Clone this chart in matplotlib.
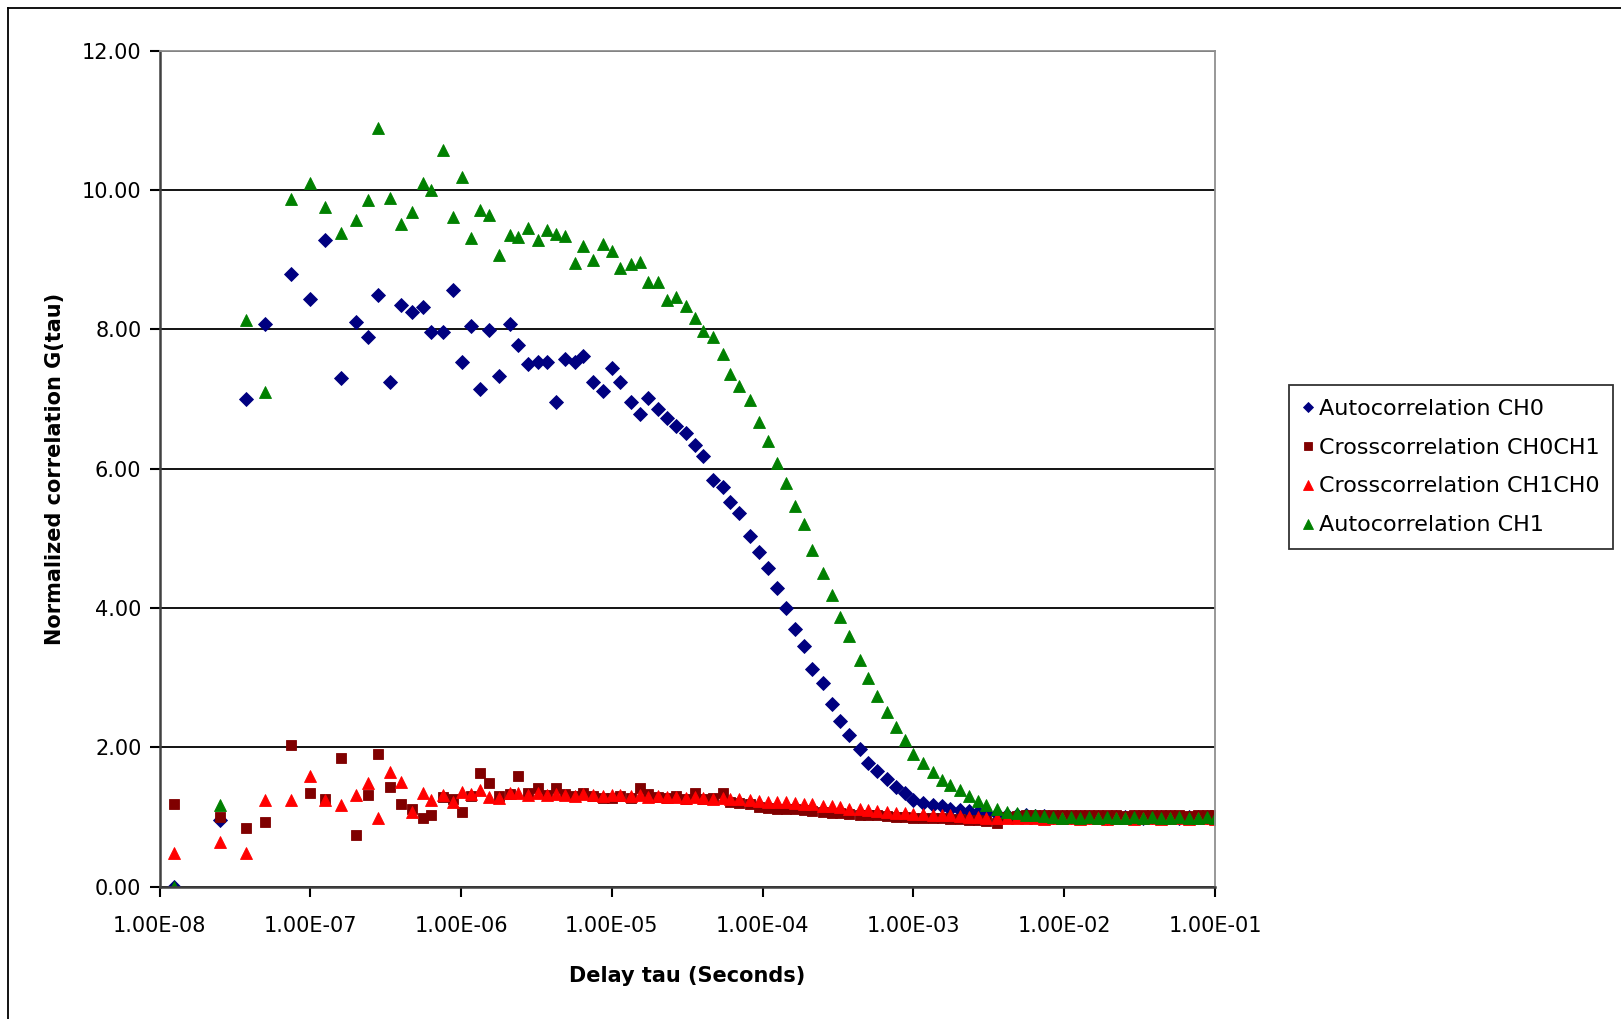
import matplotlib

matplotlib.use("Agg")
import matplotlib.pyplot as plt
from matplotlib.lines import Line2D

# delay times (s), shared by all four series
tau = [
    1.25e-8, 2.50e-8,
    3.75e-8, 5.00e-8, 7.50e-8, 1.00e-7, 1.25e-7, 1.60e-7, 2.00e-7, 2.40e-7, 2.80e-7, 3.40e-7,
    4.00e-7, 4.70e-7, 5.56e-7, 6.31e-7, 7.62e-7, 8.79e-7, 1.02e-6, 1.16e-6, 1.33e-6, 1.54e-6,
    1.79e-6, 2.11e-6, 2.39e-6, 2.79e-6, 3.25e-6, 3.69e-6, 4.26e-6, 4.89e-6, 5.69e-6, 6.46e-6,
    7.46e-6, 8.69e-6,
    1.01e-5, 1.14e-5, 1.33e-5, 1.54e-5, 1.75e-5, 2.03e-5, 2.33e-5, 2.66e-5, 3.10e-5, 3.56e-5,
    4.02e-5, 4.66e-5, 5.43e-5, 6.10e-5, 7.00e-5, 8.24e-5, 9.40e-5,
    1.08e-4, 1.25e-4, 1.43e-4, 1.63e-4, 1.87e-4, 2.14e-4, 2.50e-4, 2.90e-4, 3.24e-4, 3.75e-4,
    4.42e-4, 4.99e-4, 5.73e-4, 6.70e-4, 7.64e-4, 8.75e-4,
    1.00e-3, 1.16e-3, 1.34e-3, 1.54e-3, 1.76e-3, 2.04e-3, 2.34e-3, 2.69e-3, 3.05e-3, 3.56e-3,
    4.15e-3, 4.83e-3, 5.56e-3, 6.38e-3, 7.33e-3, 8.41e-3, 9.66e-3,
    1.11e-2, 1.27e-2, 1.46e-2, 1.68e-2, 1.93e-2, 2.21e-2, 2.54e-2, 2.92e-2, 3.35e-2, 3.85e-2,
    4.42e-2, 5.07e-2, 5.82e-2, 6.68e-2, 7.67e-2, 8.81e-2, 1.00e-1,
]

auto_ch0 = [
    0.00, 0.96,
    7.00, 8.08, 8.80, 8.43, 9.28, 7.30, 8.11, 7.89, 8.49, 7.24,
    8.35, 8.25, 8.32, 7.96, 7.96, 8.56, 7.53, 8.05, 7.15, 7.99,
    7.33, 8.08, 7.77, 7.50, 7.53, 7.53, 6.96, 7.58, 7.53, 7.62,
    7.25, 7.12,
    7.45, 7.25, 6.96, 6.79, 7.01, 6.85, 6.72, 6.61, 6.51, 6.34,
    6.18, 5.84, 5.74, 5.52, 5.37, 5.03, 4.81,
    4.57, 4.28, 4.00, 3.70, 3.45, 3.13, 2.92, 2.62, 2.38, 2.18,
    1.97, 1.78, 1.66, 1.54, 1.43, 1.34,
    1.24, 1.20, 1.17, 1.15, 1.12, 1.10, 1.08, 1.07, 1.05, 1.04,
    1.03, 1.02, 1.02, 1.01, 1.01, 1.00, 1.00,
    1.00, 1.00, 1.00, 1.00, 0.99, 1.00, 1.00, 1.00, 0.99, 1.00,
    1.00, 1.00, 0.99, 1.00, 1.00, 1.00, 1.00,
]

cross_01 = [
    1.19, 1.00,
    0.84, 0.92, 2.03, 1.35, 1.25, 1.84, 0.74, 1.31, 1.91, 1.43,
    1.19, 1.12, 0.98, 1.03, 1.28, 1.25, 1.07, 1.30, 1.63, 1.48,
    1.30, 1.33, 1.58, 1.35, 1.42, 1.32, 1.42, 1.33, 1.30, 1.34,
    1.30, 1.27,
    1.27, 1.30, 1.27, 1.41, 1.33, 1.28, 1.27, 1.30, 1.26, 1.34,
    1.25, 1.27, 1.34, 1.22, 1.20, 1.18, 1.14,
    1.13, 1.12, 1.12, 1.11, 1.10, 1.08, 1.07, 1.05, 1.05, 1.04,
    1.03, 1.02, 1.02, 1.01, 1.00, 1.00,
    0.99, 0.99, 0.98, 0.98, 0.97, 0.97, 0.96, 0.95, 0.94, 0.91,
    1.00, 1.01, 1.02, 1.03, 1.02, 1.03, 1.02,
    1.03, 1.02, 1.03, 1.02, 1.03, 1.02, 1.01, 1.03, 1.02, 1.03,
    1.02, 1.03, 1.02, 1.01, 1.03, 1.02, 1.03,
]

cross_10 = [
    0.48, 0.64,
    0.48, 1.24, 1.24, 1.58, 1.24, 1.17, 1.31, 1.48, 0.98, 1.65,
    1.50, 1.07, 1.35, 1.24, 1.31, 1.22, 1.36, 1.33, 1.38, 1.28,
    1.27, 1.35, 1.34, 1.32, 1.35, 1.31, 1.33, 1.32, 1.30, 1.33,
    1.31, 1.30,
    1.32, 1.31, 1.30, 1.31, 1.29, 1.30, 1.28, 1.29, 1.27, 1.28,
    1.27, 1.26, 1.27, 1.25, 1.25, 1.24, 1.23,
    1.22, 1.22, 1.21, 1.20, 1.19, 1.18, 1.16, 1.15, 1.14, 1.12,
    1.11, 1.10, 1.08, 1.07, 1.06, 1.05,
    1.04, 1.04, 1.03, 1.03, 1.02, 1.01, 1.00, 1.00, 0.99, 0.99,
    0.98, 0.98, 0.98, 0.98, 0.97, 0.98, 0.98,
    0.98, 0.97, 0.98, 0.98, 0.97, 0.98, 0.98, 0.97, 0.98, 0.98,
    0.97, 0.98, 0.98, 0.97, 0.98, 0.98, 0.97,
]

auto_ch1 = [
    0.00, 1.17,
    8.13, 7.10, 9.87, 10.10, 9.75, 9.39, 9.57, 9.85, 10.89, 9.88,
    9.51, 9.69, 10.10, 10.00, 10.57, 9.61, 10.19, 9.31, 9.71, 9.64,
    9.07, 9.35, 9.33, 9.46, 9.28, 9.42, 9.37, 9.34, 8.95, 9.19,
    9.00, 9.22,
    9.13, 8.88, 8.94, 8.97, 8.68, 8.68, 8.42, 8.47, 8.33, 8.16,
    7.97, 7.89, 7.65, 7.36, 7.18, 6.98, 6.67,
    6.40, 6.08, 5.79, 5.46, 5.20, 4.83, 4.50, 4.19, 3.87, 3.59,
    3.25, 2.99, 2.73, 2.51, 2.29, 2.10,
    1.91, 1.77, 1.65, 1.53, 1.46, 1.39, 1.30, 1.23, 1.17, 1.12,
    1.07, 1.05, 1.03, 1.02, 1.01, 1.00, 0.99,
    1.00, 0.99, 1.00, 0.99, 1.00, 0.99, 0.99, 1.00, 0.99, 1.00,
    0.99, 0.99, 1.00, 0.99, 0.99, 1.00, 0.99,
]

series = [
    ("Autocorrelation CH0", auto_ch0, "D", "#000080", 7.0),
    ("Crosscorrelation CH0CH1", cross_01, "s", "#800000", 7.5),
    ("Crosscorrelation CH1CH0", cross_10, "^", "#ff0000", 8.5),
    ("Autocorrelation CH1", auto_ch1, "^", "#008000", 8.5),
]

xtick_vals = [1e-8, 1e-7, 1e-6, 1e-5, 1e-4, 1e-3, 1e-2, 1e-1]
xtick_labels = ["1.00E-08", "1.00E-07", "1.00E-06", "1.00E-05",
                "1.00E-04", "1.00E-03", "1.00E-02", "1.00E-01"]
ytick_vals = [0, 2, 4, 6, 8, 10, 12]

plt.rcParams["font.family"] = "DejaVu Sans"

fig = plt.figure(figsize=(16.21, 10.19), dpi=100)
ax = fig.add_axes([0.0984, 0.130, 0.6511, 0.8202])

for label, vals, marker, color, ms in series:
    ax.plot(tau, vals, linestyle="none", marker=marker, color=color,
            markersize=ms, markeredgewidth=0.6, label=label)

ax.set_xscale("log")
ax.set_xlim(1e-8, 1e-1)
ax.set_ylim(0, 12)
ax.set_xticks(xtick_vals)
ax.set_xticklabels(xtick_labels)
ax.minorticks_off()
ax.set_yticks(ytick_vals)
ax.set_yticklabels([f"{v:.2f}" for v in ytick_vals])
ax.tick_params(axis="both", direction="out", length=7, width=1.5,
               labelsize=15, colors="black", pad=6)
ax.tick_params(axis="x", pad=14)

ax.grid(axis="y", color="black", linewidth=1.3)
ax.set_axisbelow(True)
for side in ("top", "right"):
    ax.spines[side].set_color("#909090")
    ax.spines[side].set_linewidth(1.3)
for side in ("left", "bottom"):
    ax.spines[side].set_color("#404040")
    ax.spines[side].set_linewidth(1.8)

ax.set_xlabel("Delay tau (Seconds)", fontsize=15, fontweight="bold", labelpad=22)
ax.set_ylabel("Normalized correlation G(tau)", fontsize=15, fontweight="bold", labelpad=12)

leg = fig.legend(loc="center", bbox_to_anchor=(0.895, 0.5417), fontsize=16,
                 frameon=True, fancybox=False, borderpad=0.6, labelspacing=0.85,
                 handlelength=0.5, handletextpad=0.25, markerscale=0.8)
leg.get_frame().set_edgecolor("black")
leg.get_frame().set_linewidth(1.3)

# outer chart border (left and top edges are visible)
fig.add_artist(Line2D([0.005, 0.005], [0.0, 0.992], transform=fig.transFigure,
                      color="black", linewidth=1.3))
fig.add_artist(Line2D([0.005, 1.0], [0.992, 0.992], transform=fig.transFigure,
                      color="black", linewidth=1.3))

fig.savefig("out.png", dpi=100)
plt.close(fig)
